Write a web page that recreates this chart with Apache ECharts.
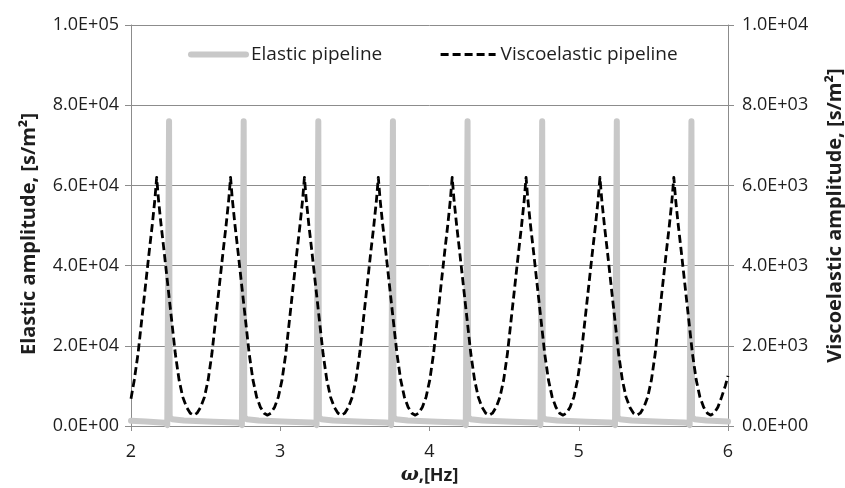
<!DOCTYPE html>
<html>
<head>
<meta charset="utf-8">
<script src="https://cdn.jsdelivr.net/npm/echarts@6/dist/echarts.min.js"></script>
<style>
html,body{margin:0;padding:0;background:#fff;}
#chart{width:845px;height:488px;}
</style>
</head>
<body>
<div id="chart"></div>
<script>
// ---- data ----
var xTickLabels = ['2', '3', '4', '5', '6'];
var leftTickLabels = ['0.0E+00', '2.0E+04', '4.0E+04', '6.0E+04', '8.0E+04', '1.0E+05'];
var rightTickLabels = ['0.0E+00', '2.0E+03', '4.0E+03', '6.0E+03', '8.0E+03', '1.0E+04'];
var seriesNames = ['Elastic pipeline', 'Viscoelastic pipeline'];

// Elastic pipeline (left axis) frequency [Hz] and amplitude [s/m2]
var elasticX = [
  2.000, 2.100, 2.225, 2.243, 2.251, 2.255, 2.259, 2.275, 2.355, 2.555, 2.705,
  2.725, 2.743, 2.751, 2.755, 2.759, 2.775, 2.855, 3.055, 3.205,
  3.225, 3.243, 3.251, 3.255, 3.259, 3.275, 3.355, 3.555, 3.705,
  3.725, 3.743, 3.751, 3.755, 3.759, 3.775, 3.855, 4.055, 4.205,
  4.225, 4.243, 4.251, 4.255, 4.259, 4.275, 4.355, 4.555, 4.705,
  4.725, 4.743, 4.751, 4.755, 4.759, 4.775, 4.855, 5.055, 5.205,
  5.225, 5.243, 5.251, 5.255, 5.259, 5.275, 5.355, 5.555, 5.705,
  5.725, 5.743, 5.751, 5.755, 5.759, 5.775, 5.855, 6.000
];
var elasticY = [
  1300, 1100, 800, 250, 50, 76000, 2300, 1700, 1350, 1050, 880,
  800, 250, 50, 76000, 2300, 1700, 1350, 1050, 880,
  800, 250, 50, 76000, 2300, 1700, 1350, 1050, 880,
  800, 250, 50, 76000, 2300, 1700, 1350, 1050, 880,
  800, 250, 50, 76000, 2300, 1700, 1350, 1050, 880,
  800, 250, 50, 76000, 2300, 1700, 1350, 1050, 880,
  800, 250, 50, 76000, 2300, 1700, 1350, 1050, 880,
  800, 250, 50, 76000, 2300, 1700, 1350, 1100
];

// Viscoelastic pipeline (right axis) frequency [Hz] and amplitude [s/m2]
var viscoX = [
  2.000, 2.022, 2.047, 2.072, 2.097, 2.122, 2.142, 2.160, 2.172, 2.184, 2.202, 2.222, 2.247, 2.272, 2.297, 2.322, 2.347, 2.372, 2.397, 2.420,
  2.442, 2.467, 2.492, 2.517, 2.542, 2.567, 2.592, 2.617, 2.637, 2.655, 2.667, 2.679, 2.697, 2.717, 2.742, 2.767, 2.792, 2.817, 2.842, 2.867, 2.892, 2.915,
  2.937, 2.962, 2.987, 3.012, 3.037, 3.062, 3.087, 3.112, 3.132, 3.150, 3.162, 3.174, 3.192, 3.212, 3.237, 3.262, 3.287, 3.312, 3.337, 3.362, 3.387, 3.410,
  3.432, 3.457, 3.482, 3.507, 3.532, 3.557, 3.582, 3.607, 3.627, 3.645, 3.657, 3.669, 3.687, 3.707, 3.732, 3.757, 3.782, 3.807, 3.832, 3.857, 3.882, 3.905,
  3.927, 3.952, 3.977, 4.002, 4.027, 4.052, 4.077, 4.102, 4.122, 4.140, 4.152, 4.164, 4.182, 4.202, 4.227, 4.252, 4.277, 4.302, 4.327, 4.352, 4.377, 4.400,
  4.422, 4.447, 4.472, 4.497, 4.522, 4.547, 4.572, 4.597, 4.617, 4.635, 4.647, 4.659, 4.677, 4.697, 4.722, 4.747, 4.772, 4.797, 4.822, 4.847, 4.872, 4.895,
  4.917, 4.942, 4.967, 4.992, 5.017, 5.042, 5.067, 5.092, 5.112, 5.130, 5.142, 5.154, 5.172, 5.192, 5.217, 5.242, 5.267, 5.292, 5.317, 5.342, 5.367, 5.390,
  5.412, 5.437, 5.462, 5.487, 5.512, 5.537, 5.562, 5.587, 5.607, 5.625, 5.637, 5.649, 5.667, 5.687, 5.712, 5.737, 5.762, 5.787, 5.812, 5.837, 5.862, 5.885,
  5.907, 5.932, 5.957, 5.982, 6.000
];
var viscoY = [
  680, 1150, 1800, 2650, 3500, 4350, 5000, 5650, 6200, 5650, 5000, 4350, 3500, 2650, 1800, 1150, 720, 470, 320, 270,
  320, 470, 720, 1150, 1800, 2650, 3500, 4350, 5000, 5650, 6200, 5650, 5000, 4350, 3500, 2650, 1800, 1150, 720, 470, 320, 270,
  320, 470, 720, 1150, 1800, 2650, 3500, 4350, 5000, 5650, 6200, 5650, 5000, 4350, 3500, 2650, 1800, 1150, 720, 470, 320, 270,
  320, 470, 720, 1150, 1800, 2650, 3500, 4350, 5000, 5650, 6200, 5650, 5000, 4350, 3500, 2650, 1800, 1150, 720, 470, 320, 270,
  320, 470, 720, 1150, 1800, 2650, 3500, 4350, 5000, 5650, 6200, 5650, 5000, 4350, 3500, 2650, 1800, 1150, 720, 470, 320, 270,
  320, 470, 720, 1150, 1800, 2650, 3500, 4350, 5000, 5650, 6200, 5650, 5000, 4350, 3500, 2650, 1800, 1150, 720, 470, 320, 270,
  320, 470, 720, 1150, 1800, 2650, 3500, 4350, 5000, 5650, 6200, 5650, 5000, 4350, 3500, 2650, 1800, 1150, 720, 470, 320, 270,
  320, 470, 720, 1150, 1800, 2650, 3500, 4350, 5000, 5650, 6200, 5650, 5000, 4350, 3500, 2650, 1800, 1150, 720, 470, 320, 270,
  320, 470, 720, 1000, 1250
];

// ---- chart ----
function pairs(xs, ys) {
  var out = [];
  for (var i = 0; i < xs.length; i++) out.push([xs[i], ys[i]]);
  return out;
}
var FONT = '"Open Sans", "Noto Sans", sans-serif';
var TXT = '#1e1e1e';
var AXC = '#8c8c8c';

var chart = echarts.init(document.getElementById('chart'), null, {renderer: 'canvas'});
chart.setOption({
  animation: false,
  backgroundColor: '#ffffff',
  textStyle: {fontFamily: FONT},
  grid: {left: 131, right: 117, top: 25, bottom: 62, containLabel: false, outerBoundsMode: 'none'},
  legend: {
    left: 183, top: 40,
    itemWidth: 55, itemHeight: 20, itemGap: 57,
    itemStyle: {opacity: 0},
    textStyle: {fontFamily: FONT, fontSize: 19, color: TXT},
    data: [
      {name: seriesNames[0], lineStyle: {width: 6, color: '#c8c8c8', cap: 'round'}},
      {name: seriesNames[1], lineStyle: {width: 2.8, color: '#000000', type: [8, 4]}}
    ]
  },
  xAxis: {
    type: 'value', min: 2, max: 6, interval: 1,
    axisLine: {lineStyle: {color: AXC, width: 1}},
    axisTick: {show: true, length: 5, lineStyle: {color: AXC}},
    splitLine: {show: false},
    axisLabel: {
      fontFamily: FONT, fontSize: 18, color: TXT, margin: 17,
      formatter: function (v) { return xTickLabels[Math.round(v - 2)]; }
    },
    name: '{w|ω},[Hz]', nameLocation: 'middle', nameGap: 35,
    nameTextStyle: {
      fontFamily: FONT, fontSize: 18, fontWeight: 'bold', color: TXT,
      rich: {w: {fontFamily: '"DejaVu Serif", serif', fontStyle: 'italic', fontWeight: 'bold', fontSize: 19, color: TXT}}
    }
  },
  yAxis: [
    {
      type: 'value', min: 0, max: 100000, interval: 20000, position: 'left',
      axisLine: {show: true, lineStyle: {color: AXC, width: 1}},
      axisTick: {show: true, length: 6, lineStyle: {color: AXC}},
      splitLine: {show: true, lineStyle: {color: AXC, width: 1}},
      axisLabel: {
        fontFamily: FONT, fontSize: 18, color: TXT, margin: 12,
        formatter: function (v) { return leftTickLabels[Math.round(v / 20000)]; }
      },
      name: 'Elastic amplitude, [s/m²]', nameLocation: 'middle', nameGap: 92, nameRotate: 90,
      nameTextStyle: {fontFamily: FONT, fontSize: 20, fontWeight: 'bold', color: TXT, padding: [0, 17, 0, 0]}
    },
    {
      type: 'value', min: 0, max: 10000, interval: 2000, position: 'right',
      axisLine: {show: true, lineStyle: {color: AXC, width: 1}},
      axisTick: {show: true, length: 6, lineStyle: {color: AXC}},
      splitLine: {show: false},
      axisLabel: {
        fontFamily: FONT, fontSize: 18, color: TXT, margin: 14,
        formatter: function (v) { return rightTickLabels[Math.round(v / 2000)]; }
      },
      name: 'Viscoelastic amplitude, [s/m²]', nameLocation: 'middle', nameGap: 97, nameRotate: 90,
      nameTextStyle: {fontFamily: FONT, fontSize: 20, fontWeight: 'bold', color: TXT, padding: [0, 0, 0, 20]}
    }
  ],
  series: [
    {
      name: seriesNames[0], type: 'line', yAxisIndex: 0,
      data: pairs(elasticX, elasticY),
      showSymbol: false, symbol: 'none',
      lineStyle: {color: '#c8c8c8', width: 6, cap: 'round', join: 'round'},
      itemStyle: {color: '#c8c8c8'},
      z: 2
    },
    {
      name: seriesNames[1], type: 'line', yAxisIndex: 1,
      data: pairs(viscoX, viscoY),
      showSymbol: false, symbol: 'none',
      lineStyle: {color: '#000000', width: 2.8, type: [8, 4], join: 'round'},
      itemStyle: {color: '#000000'},
      z: 3
    }
  ]
});
</script>
</body>
</html>
